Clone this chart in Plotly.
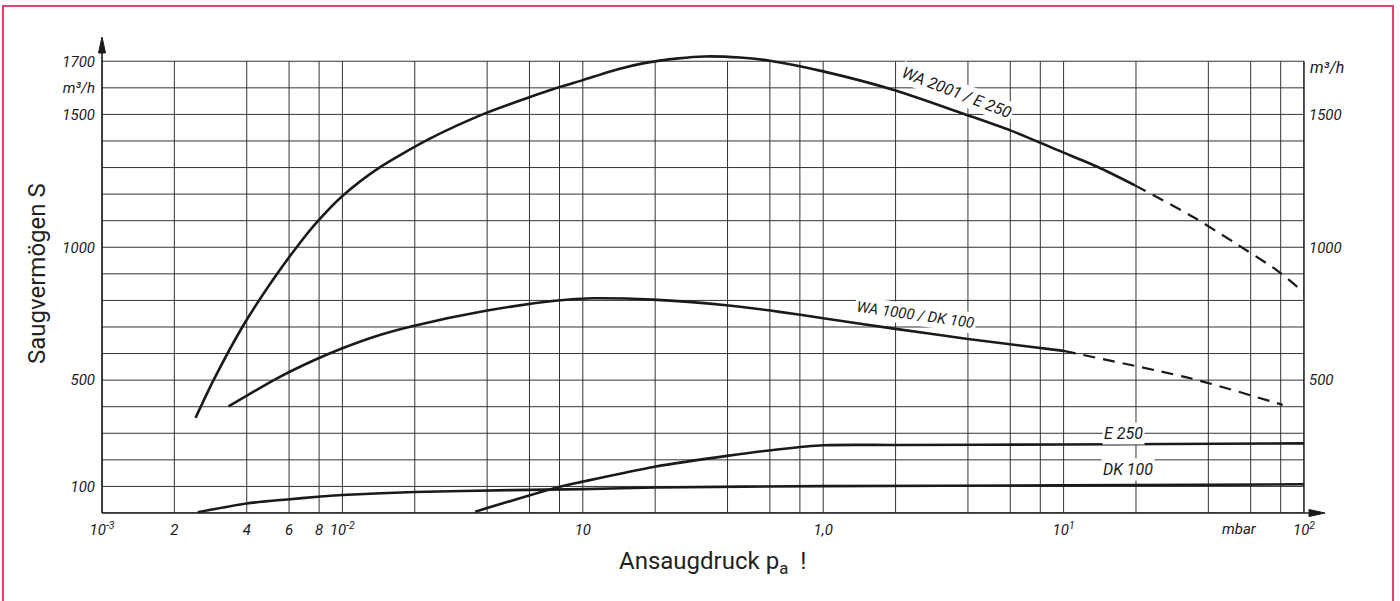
import math
import plotly.graph_objects as go

# ---------------- data ----------------
wa2001_p = [0.00245, 0.0029, 0.00384, 0.0051, 0.0065, 0.0079, 0.0100, 0.0142, 0.023, 0.039,
            0.058, 0.079, 0.10, 0.14, 0.18, 0.25, 0.32, 0.45, 0.60, 1.0, 2.0, 3.9, 6.0, 9.9, 13.9, 19.8]
wa2001_s = [358, 497, 701, 873, 1004, 1098, 1193, 1299, 1408, 1503,
            1560, 1601, 1629, 1670, 1693, 1711, 1718, 1714, 1702, 1662, 1590, 1500, 1440, 1358, 1302, 1233]
wa2001_dash_p = [19.8, 34.6, 50.8, 76.9, 100]
wa2001_dash_s = [1233, 1114, 1020, 914, 830]

wa1000_p = [0.00336, 0.0053, 0.0075, 0.010, 0.0142, 0.0195, 0.039, 0.0787, 0.11, 0.195,
            0.395, 0.658, 1.0, 2.0, 4.0, 10]
wa1000_s = [401, 505, 572, 620, 669, 703, 760, 800, 808, 803,
            782, 757, 733, 693, 655, 610]
wa1000_dash_p = [10, 34, 81.5]
wa1000_dash_s = [610, 506, 407]

e250_p = [0.0357, 0.0794, 0.10, 0.199, 0.398, 0.658, 1.0, 2.0, 10, 100]
e250_s = [5, 98, 118, 174, 215, 240, 255, 256, 258, 262]

dk100_p = [0.0025, 0.004, 0.0059, 0.0079, 0.01, 0.02, 0.05, 0.1, 0.2, 1.0, 10, 100]
dk100_s = [3, 36, 51, 61, 68, 79, 86, 90, 96, 101, 104, 108]

x_grid = [0.001, 0.002, 0.004, 0.006, 0.008,
          0.01, 0.02, 0.04, 0.06, 0.08,
          0.1, 0.2, 0.4, 0.6, 0.8,
          1, 2, 4, 6, 8,
          10, 20, 40, 60, 80, 100]
x_tickvals = [0.001, 0.002, 0.004, 0.006, 0.008, 0.01, 0.1, 1, 10, 100]
x_ticktext = ["10<sup>-3</sup>", "2", "4", "6", "8", "10<sup>-2</sup>", "10", "1,0",
              "10<sup>1</sup>", "10<sup>2</sup>"]

y_grid = list(range(0, 1701, 100))
y_tickvals_left = [100, 500, 1000, 1500, 1600, 1700]
y_ticktext_left = ["100", "500", "1000", "1500", "m³/h", "1700"]
y_tickvals_right = [500, 1000, 1500]

curve_labels = [
    ("WA 2001 / E 250", 3.6, 1583, 21, 16),
    ("WA 1000 / DK 100", 2.43, 745, 8, 15),
    ("E 250", 17.8, 300, 0, 16),
    ("DK 100", 18.5, 162, 0, 16),
]

# ---------------- layout geometry helpers ----------------
W, H = 1400, 601
L, R = 102, 1304
B = 513
YMAX = 1780
T = 40


def px(x):
    return (x - L) / (R - L)


def py(y):
    return (B - y) / (B - T)


FONT = "Roboto, Liberation Sans, Arial, sans-serif"
INK = "#1a1a1a"
GRID = "#333333"

fig = go.Figure()

line_style = dict(color=INK, width=2.6, shape="spline", smoothing=0.7)
dash_style = dict(color=INK, width=2.2, shape="spline", smoothing=0.7, dash="12px,8px")

fig.add_trace(go.Scatter(x=wa2001_p, y=wa2001_s, mode="lines", line=line_style, hoverinfo="skip"))
fig.add_trace(go.Scatter(x=wa2001_dash_p, y=wa2001_dash_s, mode="lines", line=dash_style, hoverinfo="skip"))
fig.add_trace(go.Scatter(x=wa1000_p, y=wa1000_s, mode="lines", line=line_style, hoverinfo="skip"))
fig.add_trace(go.Scatter(x=wa1000_dash_p, y=wa1000_dash_s, mode="lines", line=dash_style, hoverinfo="skip"))
fig.add_trace(go.Scatter(x=e250_p, y=e250_s, mode="lines", line=line_style, hoverinfo="skip"))
fig.add_trace(go.Scatter(x=dk100_p, y=dk100_s, mode="lines", line=line_style, hoverinfo="skip"))
# anchor trace for the right axis
fig.add_trace(go.Scatter(x=[1], y=[None], yaxis="y2", mode="lines", hoverinfo="skip"))

tickfont = dict(family=FONT, size=15, color=INK, style="italic")

fig.update_layout(
    width=W, height=H, autosize=False,
    margin=dict(l=L, r=W - R, t=T, b=H - B, pad=0),
    paper_bgcolor="white", plot_bgcolor="white",
    showlegend=False,
    xaxis=dict(
        type="log", range=[-3, 2], tickmode="array",
        tickvals=x_tickvals, ticktext=x_ticktext,
        showgrid=False, ticks="", ticklabelstandoff=6, showline=False, zeroline=False,
        tickfont=tickfont,
    ),
    yaxis=dict(
        range=[0, YMAX], tickmode="array",
        tickvals=y_tickvals_left, ticktext=y_ticktext_left,
        showgrid=False, ticks="", ticklabelstandoff=6, showline=False, zeroline=False,
        tickfont=tickfont,
    ),
    yaxis2=dict(
        range=[0, YMAX], overlaying="y", side="right", tickmode="array",
        tickvals=y_tickvals_right, ticktext=[str(v) for v in y_tickvals_right],
        showgrid=False, ticks="", ticklabelstandoff=4, showline=False, zeroline=False,
        tickfont=tickfont,
    ),
)

shapes = []
# grid (shape x coordinates on the log axis are given as data values)
for v in x_grid:
    shapes.append(dict(type="line", xref="x", yref="y", x0=v, x1=v,
                       y0=0, y1=1700, layer="below", line=dict(color=GRID, width=1)))
for v in y_grid:
    shapes.append(dict(type="line", xref="paper", yref="y", x0=0, x1=1, y0=v, y1=v,
                       layer="below", line=dict(color=GRID, width=1)))
# left axis line with arrow
shapes.append(dict(type="line", xref="paper", yref="paper", x0=0, x1=0, y0=0, y1=py(50),
                   line=dict(color=INK, width=1.6)))
aw = 3.5 / (R - L)
shapes.append(dict(type="path", xref="paper", yref="paper",
                   path=f"M {-aw},{py(53)} L {aw},{py(53)} L 0,{py(37)} Z",
                   fillcolor=INK, line=dict(color=INK, width=1)))
# bottom axis line with arrow
shapes.append(dict(type="line", xref="paper", yref="paper", x0=0, x1=px(1312), y0=0, y1=0,
                   line=dict(color=INK, width=1.6)))
ah = 3.5 / (B - T)
shapes.append(dict(type="path", xref="paper", yref="paper",
                   path=f"M {px(1309)},{-ah} L {px(1309)},{ah} L {px(1325)},0 Z",
                   fillcolor=INK, line=dict(color=INK, width=1)))
# right border of grid
shapes.append(dict(type="line", xref="paper", yref="y", x0=1, x1=1, y0=0, y1=1700,
                   line=dict(color=INK, width=1.4)))
# pink frame
shapes.append(dict(type="rect", xref="paper", yref="paper",
                   x0=px(3), x1=px(1393), y0=py(640), y1=py(6),
                   line=dict(color="#e8416f", width=2), fillcolor="rgba(0,0,0,0)", layer="above"))
fig.update_layout(shapes=shapes)

ann = []
for text, xv, yv, ang, fs in curve_labels:
    ann.append(dict(x=math.log10(xv), y=yv, xref="x", yref="y", text=text, showarrow=False,
                    textangle=ang, bgcolor="white", borderpad=1,
                    font=dict(family=FONT, size=fs, color=INK, style="italic")))
ann.append(dict(x=px(1308), y=1677, xref="paper", yref="y", text="m³/h", showarrow=False,
                xanchor="left", yanchor="middle",
                font=dict(family=FONT, size=16, color=INK, style="italic")))
ann.append(dict(x=math.log10(54), y=py(529), xref="x", yref="paper", text="mbar", showarrow=False,
                xanchor="center", yanchor="middle",
                font=dict(family=FONT, size=15, color=INK, style="italic")))
ann.append(dict(x=px(37), y=py(274), xref="paper", yref="paper", text="Saugvermögen S",
                showarrow=False, textangle=-90, xanchor="center", yanchor="middle",
                font=dict(family=FONT, size=24, color="#222")))
ann.append(dict(x=px(712), y=py(562), xref="paper", yref="paper", text="Ansaugdruck p<sub>a</sub>  !",
                showarrow=False, xanchor="center", yanchor="middle",
                font=dict(family=FONT, size=24, color="#222")))
fig.update_layout(annotations=ann)

fig.write_html("out.html")
